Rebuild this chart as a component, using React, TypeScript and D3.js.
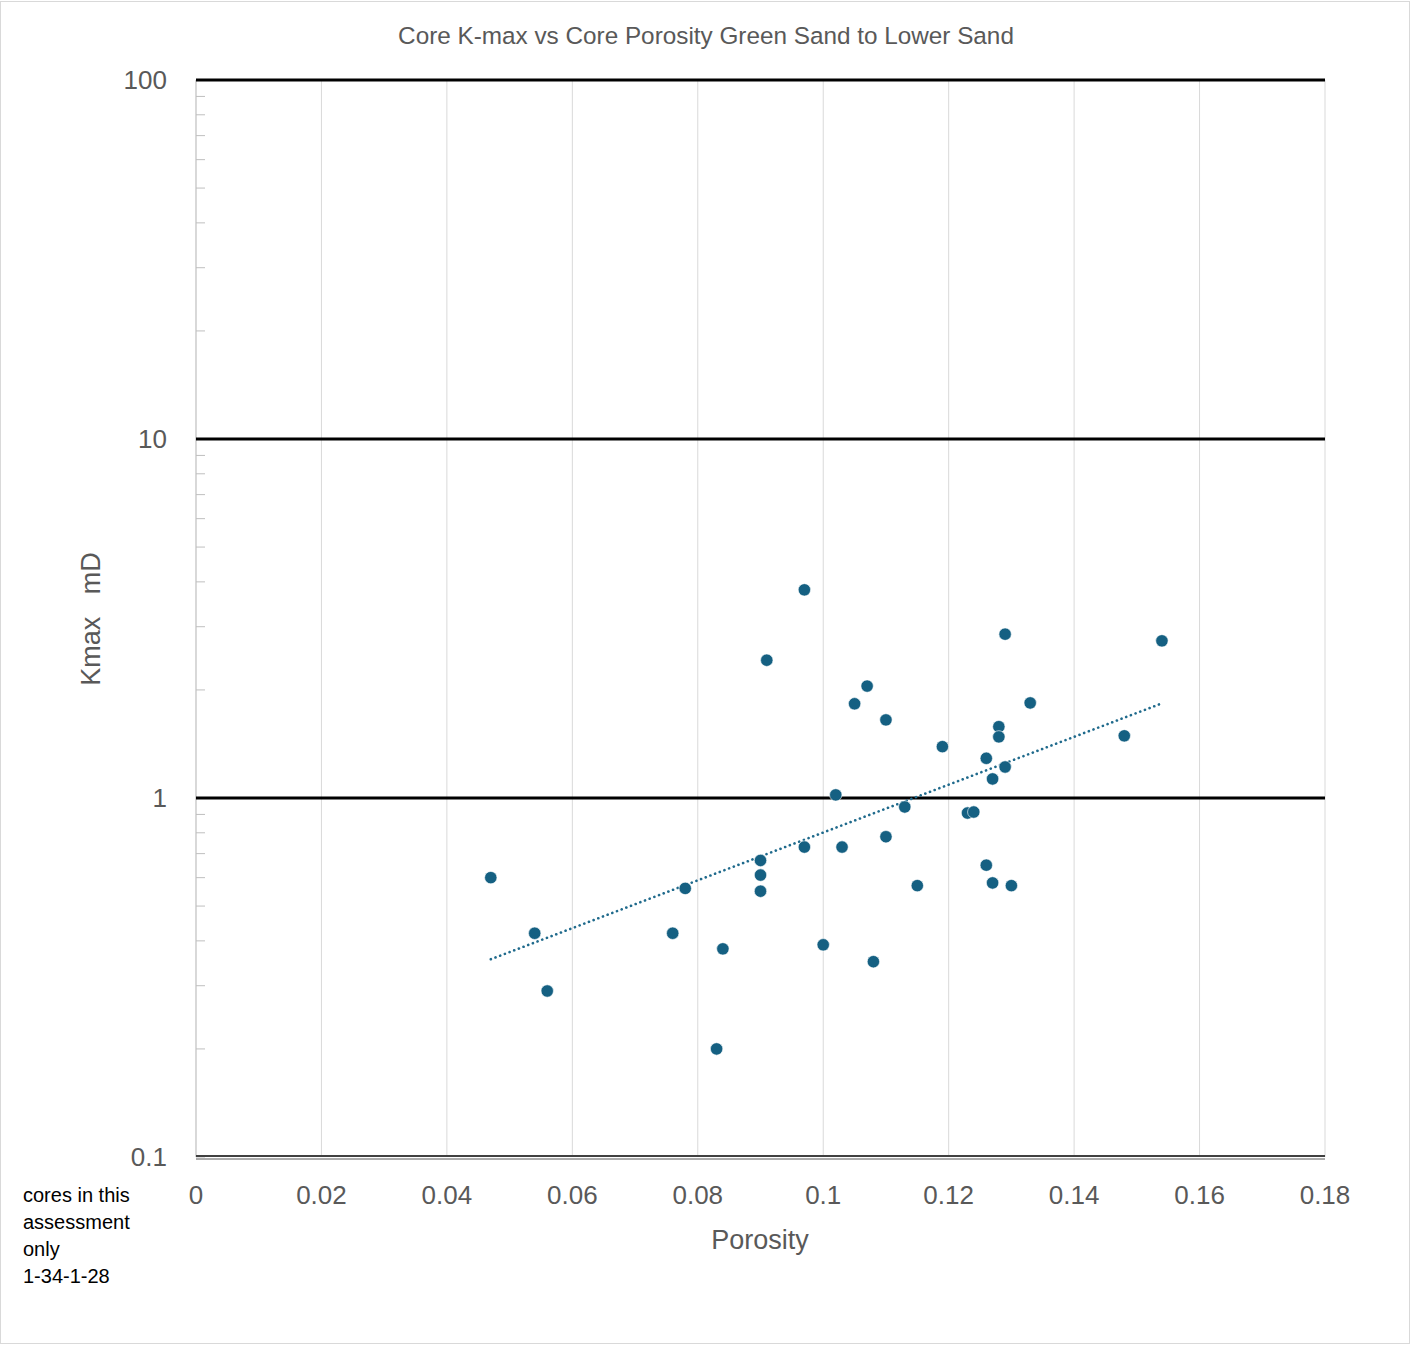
import { useEffect, useRef } from "react";
import * as d3 from "d3";

const W = 1410, H = 1345;

const porosity = [
  0.047, 0.054, 0.056, 0.076, 0.078, 0.083, 0.084, 0.09, 0.09, 0.09,
  0.091, 0.097, 0.097, 0.1, 0.102, 0.103, 0.105, 0.107, 0.108, 0.11,
  0.11, 0.113, 0.115, 0.119, 0.123, 0.124, 0.126, 0.126, 0.127, 0.127,
  0.128, 0.128, 0.129, 0.129, 0.13, 0.133, 0.148, 0.154,
];
const kmax = [
  0.6, 0.42, 0.29, 0.42, 0.56, 0.2, 0.38, 0.67, 0.61, 0.55,
  2.42, 3.8, 0.73, 0.39, 1.02, 0.73, 1.83, 2.05, 0.35, 1.65,
  0.78, 0.944, 0.57, 1.39, 0.908, 0.914, 1.29, 0.65, 1.13, 0.58,
  1.58, 1.48, 2.86, 1.22, 0.57, 1.84, 1.49, 2.74,
];

const xTicks = [0, 0.02, 0.04, 0.06, 0.08, 0.1, 0.12, 0.14, 0.16, 0.18];
const xTickLabels = ["0", "0.02", "0.04", "0.06", "0.08", "0.1", "0.12", "0.14", "0.16", "0.18"];
const yTicks = [0.1, 1, 10, 100];
const yTickLabels = ["0.1", "1", "10", "100"];
const noteLines = ["cores in this", "assessment", "only", "1-34-1-28"];

const DOT = "#156082";
const GREY_TXT = "#595959";

export default function App() {
  const ref = useRef<SVGSVGElement>(null);

  useEffect(() => {
    if (!ref.current) return;
    const svg = d3.select(ref.current);
    svg.selectAll("*").remove();

    const x = d3.scaleLinear().domain([0, 0.18]).range([196, 1325]);
    const y = d3.scaleLog().domain([0.1, 100]).range([1157, 80]);
    const font = "'Liberation Sans', Arial, sans-serif";

    // chart border
    svg.append("rect").attr("x", 0.5).attr("y", 1.5).attr("width", W - 1).attr("height", H - 3)
      .attr("fill", "#fff").attr("stroke", "#d9d9d9");

    // vertical grid
    svg.selectAll("line.vg").data(xTicks.slice(1)).enter().append("line")
      .attr("x1", d => x(d)).attr("x2", d => x(d))
      .attr("y1", y(100)).attr("y2", y(0.1))
      .attr("stroke", "#d9d9d9").attr("stroke-width", 1);

    // left axis line + minor ticks
    svg.append("line").attr("x1", x(0)).attr("x2", x(0)).attr("y1", y(100)).attr("y2", y(0.1))
      .attr("stroke", "#bfbfbf").attr("stroke-width", 1.2);
    svg.selectAll("line.mt").data(y.ticks()).enter().append("line")
      .attr("x1", x(0)).attr("x2", x(0) + 9)
      .attr("y1", d => y(d)).attr("y2", d => y(d))
      .attr("stroke", "#bfbfbf").attr("stroke-width", 1);

    // major horizontal grid
    svg.selectAll("line.hg").data(yTicks.slice(1)).enter().append("line")
      .attr("x1", x(0)).attr("x2", x(0.18))
      .attr("y1", d => y(d)).attr("y2", d => y(d))
      .attr("stroke", "#000").attr("stroke-width", 3);

    // bottom axis (double line)
    svg.append("line").attr("x1", x(0)).attr("x2", x(0.18)).attr("y1", y(0.1) - 1).attr("y2", y(0.1) - 1)
      .attr("stroke", "#404040").attr("stroke-width", 2);
    svg.append("line").attr("x1", x(0)).attr("x2", x(0.18)).attr("y1", y(0.1) + 2).attr("y2", y(0.1) + 2)
      .attr("stroke", "#595959").attr("stroke-width", 1);

    // tick labels
    svg.selectAll("text.yl").data(yTicks).enter().append("text")
      .attr("x", 167).attr("y", d => y(d) + 9)
      .attr("text-anchor", "end").attr("font-family", font).attr("font-size", 26)
      .attr("fill", GREY_TXT).text((_, i) => yTickLabels[i]);
    svg.selectAll("text.xl").data(xTicks).enter().append("text")
      .attr("x", d => x(d)).attr("y", 1204)
      .attr("text-anchor", "middle").attr("font-family", font).attr("font-size", 26)
      .attr("fill", GREY_TXT).text((_, i) => xTickLabels[i]);

    // trendline (exponential fit)
    const ly = kmax.map(v => Math.log(v));
    const mx = d3.mean(porosity)!, my = d3.mean(ly)!;
    const b = d3.sum(porosity, (v, i) => (v - mx) * (ly[i] - my)) / d3.sum(porosity, v => (v - mx) ** 2);
    const a = my - b * mx;
    const [x0, x1] = d3.extent(porosity) as [number, number];
    const trend = d3.range(0, 41).map(i => x0 + (x1 - x0) * i / 40).map(v => [v, Math.exp(a + b * v)] as [number, number]);
    svg.append("path")
      .attr("d", d3.line<[number, number]>().x(d => x(d[0])).y(d => y(d[1]))(trend))
      .attr("fill", "none").attr("stroke", "#1f6a8c").attr("stroke-width", 2.6)
      .attr("stroke-dasharray", "0.1 4.9").attr("stroke-linecap", "round");

    // points
    svg.selectAll("circle.pt").data(porosity).enter().append("circle")
      .attr("cx", d => x(d)).attr("cy", (_, i) => y(kmax[i]))
      .attr("r", 6.2).attr("fill", DOT).attr("stroke", "#fff").attr("stroke-width", 0.6);

    // title & axis titles
    svg.append("text").attr("x", 706).attr("y", 44).attr("text-anchor", "middle")
      .attr("font-family", font).attr("font-size", 24.3).attr("fill", GREY_TXT)
      .text("Core K-max vs Core Porosity Green Sand to Lower Sand");
    svg.append("text").attr("x", 760).attr("y", 1249).attr("text-anchor", "middle")
      .attr("font-family", font).attr("font-size", 27).attr("fill", GREY_TXT)
      .text("Porosity");
    svg.append("text").attr("transform", "translate(100,619) rotate(-90)").attr("text-anchor", "middle")
      .attr("font-family", font).attr("font-size", 27).attr("fill", GREY_TXT)
      .style("white-space", "pre").text("Kmax   mD");

    // note
    svg.selectAll("text.note").data(noteLines).enter().append("text")
      .attr("x", 23).attr("y", (_, i) => 1202 + i * 27)
      .attr("font-family", font).attr("font-size", 20).attr("fill", "#000")
      .text(d => d);
  }, []);

  return (
    <svg ref={ref} width={W} height={H}
      style={{ position: "absolute", left: 0, top: 0, background: "#fff" }} />
  );
}
